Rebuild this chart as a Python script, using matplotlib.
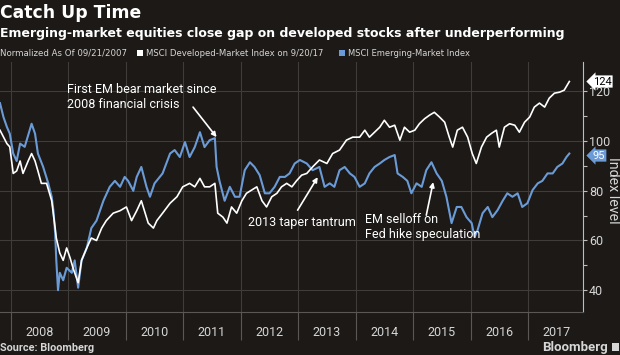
import matplotlib
matplotlib.use("Agg")
import matplotlib.pyplot as plt
from matplotlib.patches import Rectangle
from matplotlib.transforms import blended_transform_factory

plt.rcParams['font.family'] = ['Roboto', 'DejaVu Sans']
HEAD_FONT = ['DejaVu Sans']

BG = '#1c1917'
GRID = '#3f3c3a'
TEXT = '#d6d6d6'
EM_COL = '#6b9bd6'
DM_COL = '#ffffff'

# decimal year / index level, both normalized to 100 on 09/21/2007
dm_t = [2007.81, 2007.87, 2007.93, 2007.98, 2008.04, 2008.10, 2008.16, 2008.21, 2008.30, 2008.36,
        2008.42, 2008.47, 2008.53, 2008.62, 2008.71, 2008.77, 2008.79, 2008.85, 2008.91, 2008.97,
        2009.03, 2009.08, 2009.17, 2009.23, 2009.32, 2009.40, 2009.49, 2009.58, 2009.66, 2009.78,
        2009.90, 2010.01, 2010.10, 2010.19, 2010.27, 2010.39, 2010.48, 2010.54, 2010.64, 2010.77,
        2010.89, 2010.99, 2011.11, 2011.20, 2011.29, 2011.37, 2011.46, 2011.55, 2011.60, 2011.69,
        2011.76, 2011.84, 2011.93, 2012.02, 2012.10, 2012.19, 2012.28, 2012.37, 2012.45, 2012.54,
        2012.63, 2012.71, 2012.80, 2012.89, 2012.97, 2013.06, 2013.15, 2013.25, 2013.37, 2013.50,
        2013.60, 2013.72, 2013.84, 2013.95, 2014.07, 2014.16, 2014.24, 2014.33, 2014.42, 2014.50,
        2014.59, 2014.68, 2014.77, 2014.85, 2014.94, 2015.03, 2015.11, 2015.20, 2015.29, 2015.37,
        2015.46, 2015.55, 2015.63, 2015.69, 2015.77, 2015.86, 2015.95, 2016.03, 2016.10, 2016.19,
        2016.28, 2016.37, 2016.45, 2016.50, 2016.59, 2016.68, 2016.77, 2016.85, 2016.94, 2017.03,
        2017.11, 2017.20, 2017.29, 2017.37, 2017.46, 2017.55, 2017.63, 2017.72]
dm_v = [104.4, 101.7, 99.0, 97.7, 87.0, 88.0, 92.0, 87.0, 92.0, 95.0,
        92.0, 88.0, 83.0, 83.0, 76.0, 65.0, 61.0, 55.0, 52.0, 57.0,
        53.0, 49.0, 43.0, 52.0, 57.0, 61.0, 60.0, 65.0, 68.0, 71.0,
        72.0, 73.5, 68.0, 72.0, 76.0, 67.0, 65.0, 68.0, 71.0, 75.0,
        77.6, 81.6, 83.0, 81.6, 85.0, 81.6, 81.6, 83.0, 71.0, 69.4,
        67.0, 73.5, 71.0, 76.0, 79.0, 80.3, 81.6, 76.0, 73.5, 77.6,
        79.0, 81.6, 83.0, 81.6, 84.0, 86.3, 87.0, 89.6, 92.4, 91.0,
        95.0, 96.4, 100.4, 101.6, 101.6, 104.4, 101.6, 103.6, 105.6, 108.4,
        105.6, 106.4, 100.4, 105.6, 103.6, 104.4, 107.0, 109.0, 110.5, 111.6,
        109.7, 107.6, 101.6, 97.6, 104.4, 105.6, 101.6, 95.0, 91.0, 97.6,
        101.6, 103.2, 104.4, 97.6, 105.6, 107.0, 106.4, 103.6, 107.6, 109.7,
        113.7, 115.3, 113.7, 117.3, 119.3, 119.7, 120.5, 124.0]

em_t = [2007.81, 2007.87, 2007.93, 2007.98, 2008.04, 2008.10, 2008.16, 2008.24, 2008.36, 2008.42,
        2008.47, 2008.56, 2008.65, 2008.71, 2008.74, 2008.77, 2008.79, 2008.82, 2008.85, 2008.91,
        2008.97, 2009.06, 2009.11, 2009.17, 2009.23, 2009.32, 2009.40, 2009.49, 2009.55, 2009.61,
        2009.72, 2009.81, 2009.90, 2009.98, 2010.04, 2010.13, 2010.19, 2010.27, 2010.36, 2010.42,
        2010.50, 2010.64, 2010.77, 2010.85, 2010.94, 2011.03, 2011.11, 2011.20, 2011.29, 2011.37,
        2011.46, 2011.55, 2011.58, 2011.63, 2011.72, 2011.81, 2011.90, 2011.98, 2012.07, 2012.16,
        2012.24, 2012.33, 2012.42, 2012.50, 2012.59, 2012.68, 2012.77, 2012.85, 2012.94, 2013.03,
        2013.15, 2013.25, 2013.37, 2013.46, 2013.55, 2013.63, 2013.72, 2013.81, 2013.90, 2013.98,
        2014.07, 2014.16, 2014.24, 2014.33, 2014.42, 2014.50, 2014.59, 2014.68, 2014.73, 2014.82,
        2014.90, 2014.97, 2015.06, 2015.15, 2015.23, 2015.32, 2015.41, 2015.50, 2015.58, 2015.67,
        2015.76, 2015.84, 2015.93, 2016.02, 2016.07, 2016.12, 2016.21, 2016.30, 2016.38, 2016.47,
        2016.56, 2016.64, 2016.73, 2016.82, 2016.90, 2016.99, 2017.08, 2017.17, 2017.25, 2017.34,
        2017.43, 2017.51, 2017.60, 2017.67, 2017.72]
em_v = [115.3, 109.7, 105.7, 103.0, 95.0, 92.0, 99.0, 97.7, 107.0, 103.0,
        95.0, 89.7, 83.0, 77.6, 72.0, 63.0, 52.0, 40.0, 47.0, 44.0,
        49.0, 47.0, 52.0, 41.0, 52.0, 57.0, 65.0, 68.0, 72.0, 76.0,
        81.6, 84.0, 81.6, 85.6, 84.0, 80.0, 85.6, 89.6, 81.6, 77.6,
        83.0, 87.0, 95.0, 96.4, 93.6, 99.6, 93.6, 97.6, 103.6, 97.6,
        100.4, 101.2, 89.6, 84.0, 76.0, 81.6, 77.6, 77.6, 88.3, 91.5,
        89.6, 86.3, 79.0, 79.0, 81.6, 85.6, 85.6, 87.0, 91.0, 92.4,
        91.0, 88.3, 89.6, 81.6, 83.0, 81.6, 88.3, 89.6, 87.0, 85.6,
        81.6, 83.0, 87.0, 89.6, 91.0, 92.4, 93.6, 94.4, 87.0, 85.6,
        84.0, 79.0, 83.0, 81.6, 88.3, 91.5, 87.0, 84.0, 77.6, 67.0,
        73.5, 73.5, 69.4, 67.0, 61.4, 64.0, 71.0, 73.5, 69.4, 72.2,
        76.0, 79.0, 77.6, 79.0, 73.5, 75.0, 80.3, 83.0, 84.0, 87.0,
        87.0, 89.6, 91.0, 93.6, 95.0]

years = list(range(2008, 2018))
y_major = [40, 60, 80, 100, 120]
y_minor = [50, 70, 90, 110]


def px(x, y):
    # figure fraction from reference pixel position (top-left origin)
    return x / 620, 1 - y / 355


fig = plt.figure(figsize=(6.2, 3.55), dpi=100, facecolor=BG)
ax = fig.add_axes([0.0, 0.121, 0.941, 0.704], facecolor=BG)

ax.plot(em_t, em_v, color=EM_COL, lw=1.5, zorder=3)
ax.plot(dm_t, dm_v, color=DM_COL, lw=1.2, zorder=4)
ax.set_xlim(2007.81, 2017.965)
ax.set_ylim(31.2, 131.8)

# year separators as long ticks, labels centred on mid-year
ax.set_xticks(years)
ax.set_xticklabels([])
ax.set_xticks([y + 0.5 for y in years], [str(y) for y in years], minor=True)
ax.tick_params(axis='x', which='major', length=20, width=0.8, color='#5a5755', direction='out')
ax.tick_params(axis='x', which='minor', length=0, pad=10, labelsize=9, labelcolor=TEXT)

ax.yaxis.tick_right()
ax.set_yticks(y_major)
ax.set_yticks(y_minor, minor=True)
ax.tick_params(axis='y', which='both', length=3, width=0.8, color='#bdbdbd',
               labelsize=9, labelcolor=TEXT, pad=1)
ax.grid(axis='both', which='major', color=GRID, lw=0.8)
ax.set_axisbelow(True)

for s in ('top', 'left'):
    ax.spines[s].set_visible(False)
ax.spines['right'].set_color('#bdbdbd')
ax.spines['bottom'].set_color('#5a5755')

fig.text(*px(613, 190), 'Index level', rotation=270, color=TEXT,
         fontsize=10.3, ha='center', va='center')

# last-value tags on the axis
tr = blended_transform_factory(ax.transAxes, ax.transData)
ax.text(1.016, dm_v[-1], f'{dm_v[-1]:.0f}', transform=tr, ha='left', va='center',
        fontsize=8, color='black', clip_on=False, zorder=10,
        bbox=dict(boxstyle='larrow,pad=0.1', fc='white', ec='none'))
ax.text(1.016, em_v[-1] - 0.8, f'{em_v[-1]:.0f}', transform=tr, ha='left', va='center',
        fontsize=8, color='white', clip_on=False, zorder=10,
        bbox=dict(boxstyle='larrow,pad=0.1', fc=EM_COL, ec='none'))

# annotations
arrow = dict(arrowstyle='-|>', color='white', lw=1.2, mutation_scale=7, shrinkA=0, shrinkB=0)
ax.text(2008.97, 123.3, 'First EM bear market since\n2008 financial crisis', color='white',
        fontsize=9, ha='left', va='top', linespacing=1.2)
ax.annotate('', xy=(2011.58, 101.6), xytext=(2011.17, 113.7), arrowprops=arrow)
ax.text(2012.12, 67.4, '2013 taper tantrum', color='white', fontsize=9, ha='left', va='center')
ax.annotate('', xy=(2013.34, 85.5), xytext=(2012.99, 72.2), arrowprops=arrow)
ax.text(2014.16, 71.0, 'EM selloff on\nFed hike speculation', color='white', fontsize=9,
        ha='left', va='top', linespacing=1.15)
ax.annotate('', xy=(2015.35, 83.5), xytext=(2015.23, 70.2), arrowprops=arrow)

# header
fig.text(*px(0, 18.5), 'Catch Up Time', fontsize=12.4, weight='bold', color='white',
         va='baseline', family=HEAD_FONT)
fig.text(*px(0, 36.5), 'Emerging-market equities close gap on developed stocks after underperforming',
         fontsize=9.0, weight='bold', color='white', va='baseline', family=HEAD_FONT)
fig.text(*px(0, 56), 'Normalized As Of 09/21/2007', fontsize=6.2, color=TEXT,
         va='baseline', family=HEAD_FONT)
fig.patches.append(Rectangle(px(137, 56), 6 / 620, 6 / 355, transform=fig.transFigure,
                             fc='white', ec='none'))
fig.text(*px(146, 56), 'MSCI Developed-Market Index on 9/20/17', fontsize=6.1,
         color=TEXT, va='baseline', family=HEAD_FONT)
fig.patches.append(Rectangle(px(339, 56), 6 / 620, 6 / 355, transform=fig.transFigure,
                             fc=EM_COL, ec='none'))
fig.text(*px(348, 56), 'MSCI Emerging-Market Index', fontsize=6.0, color=TEXT,
         va='baseline', family=HEAD_FONT)

# footer
fig.text(*px(0, 348), 'Source: Bloomberg', fontsize=7.8, weight='bold', color=TEXT, va='center')
fig.text(*px(608, 347), 'Bloomberg', fontsize=9.5, weight='bold', color=TEXT,
         va='center', ha='right')
fig.patches.append(Rectangle(px(612, 351), 7 / 620, 8 / 355, transform=fig.transFigure,
                             fc=TEXT, ec='none'))

fig.savefig('out.png', dpi=100, facecolor=BG)
